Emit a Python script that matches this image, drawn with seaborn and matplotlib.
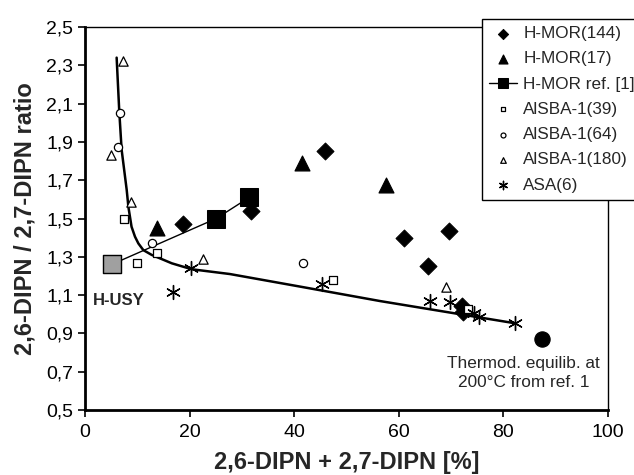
import matplotlib
matplotlib.use("Agg")
import matplotlib.pyplot as plt
import seaborn as sns
import numpy as np

# ---- data ----
hmor144_x = [18.7, 31.7, 45.9, 60.9, 69.6, 65.5, 72.0, 72.2]
hmor144_y = [1.47, 1.54, 1.85, 1.40, 1.435, 1.25, 1.045, 1.01]

hmor17_x = [13.7, 41.5, 57.5]
hmor17_y = [1.45, 1.79, 1.675]

href_x = [5.1, 25.1, 31.4]
href_y = [1.26, 1.50, 1.61]

sba39_x = [7.5, 9.9, 13.7, 47.5, 73.3]
sba39_y = [1.50, 1.27, 1.32, 1.18, 1.03]

sba64_x = [6.6, 6.4, 12.9, 41.6]
sba64_y = [2.05, 1.875, 1.37, 1.266]

sba180_x = [7.3, 5.0, 8.8, 22.5, 69.0]
sba180_y = [2.32, 1.83, 1.585, 1.29, 1.14]

asa_x = [16.9, 20.3, 45.4, 66.0, 69.8, 74.3, 75.4, 82.2]
asa_y = [1.118, 1.243, 1.16, 1.07, 1.065, 1.005, 0.987, 0.953]

equil_x = [87.4]
equil_y = [0.87]

curve_x = [6.05, 6.55, 7.0, 7.97, 8.3, 8.9, 9.56, 10.2, 11.15, 12.75, 16.6, 20.4, 27.7, 41.2, 56.4, 82.2]
curve_y = [2.34, 2.06, 1.86, 1.65, 1.56, 1.457, 1.405, 1.37, 1.335, 1.31, 1.266, 1.235, 1.21, 1.144, 1.069, 0.953]

legend_labels = ["H-MOR(144)", "H-MOR(17)", "H-MOR ref. [1]", "AlSBA-1(39)",
                 "AlSBA-1(64)", "AlSBA-1(180)", "ASA(6)"]
x_ticks = [0, 20, 40, 60, 80, 100]
y_ticks = [0.5, 0.7, 0.9, 1.1, 1.3, 1.5, 1.7, 1.9, 2.1, 2.3, 2.5]

sns.set_style("white")
plt.rcParams['font.family'] = ['Liberation Sans', 'DejaVu Sans']

fig = plt.figure(figsize=(6.34, 4.75), dpi=100)
ax = fig.add_axes([85/634, 1-410/475, (608-85)/634, (410-27)/475])

# trend curve
sns.lineplot(x=curve_x, y=curve_y, ax=ax, sort=False, estimator=None,
             color='black', linewidth=1.8, zorder=2)

# H-MOR ref line
sns.lineplot(x=href_x, y=href_y, ax=ax, sort=False, estimator=None,
             color='black', linewidth=1.0, marker='s', markersize=13,
             markeredgecolor='black', label=legend_labels[2], zorder=3)
# H-USY gray square on top of first point
sns.scatterplot(x=href_x[:1], y=href_y[:1], ax=ax, marker='s', s=150,
                color='#a0a0a0', edgecolor='black', linewidth=1.0, zorder=4)

sns.scatterplot(x=hmor144_x, y=hmor144_y, ax=ax, marker='D', s=75,
                color='black', edgecolor='black', label=legend_labels[0], zorder=5)
sns.scatterplot(x=hmor17_x, y=hmor17_y, ax=ax, marker='^', s=115,
                color='black', edgecolor='black', label=legend_labels[1], zorder=5)
sns.scatterplot(x=sba39_x, y=sba39_y, ax=ax, marker='s', s=35,
                facecolor='white', edgecolor='black', linewidth=0.9,
                label=legend_labels[3], zorder=5)
sns.scatterplot(x=sba64_x, y=sba64_y, ax=ax, marker='o', s=35,
                facecolor='white', edgecolor='black', linewidth=0.9,
                label=legend_labels[4], zorder=5)
sns.scatterplot(x=sba180_x, y=sba180_y, ax=ax, marker='^', s=45,
                facecolor='white', edgecolor='black', linewidth=0.9,
                label=legend_labels[5], zorder=5)
sns.scatterplot(x=asa_x, y=asa_y, ax=ax, marker=(6, 2, 0), s=100,
                color='black', linewidth=1.0, label=legend_labels[6], zorder=5)
sns.scatterplot(x=equil_x, y=equil_y, ax=ax, marker='o', s=120,
                color='black', edgecolor='black', zorder=5)

ax.set_xlim(0, 100)
ax.set_ylim(0.5, 2.5)
ax.set_xticks(x_ticks)
ax.set_yticks(y_ticks)
ax.set_xticklabels([str(v) for v in x_ticks])
ax.set_yticklabels([f"{v:.1f}".replace('.', ',') for v in y_ticks])
ax.tick_params(axis='both', direction='out', length=5, width=1.2,
               labelsize=14, colors='black', left=True, bottom=True)
ax.tick_params(axis='x', pad=5)

for side in ['left', 'bottom']:
    ax.spines[side].set_linewidth(2.0)
for side in ['top', 'right']:
    ax.spines[side].set_linewidth(1.0)
for s in ax.spines.values():
    s.set_color('black')
    s.set_visible(True)

ax.set_xlabel("2,6-DIPN + 2,7-DIPN [%]", fontsize=17, fontweight='bold', labelpad=7)
ax.set_ylabel("2,6-DIPN / 2,7-DIPN ratio", fontsize=17, fontweight='bold', labelpad=7)

ax.text(1.5, 1.07, "H-USY", fontsize=12, fontweight='bold', ha='left', va='center')
ax.text(83.8, 0.693, "Thermod. equilib. at\n200°C from ref. 1", fontsize=12.4,
        ha='center', va='center', linespacing=1.3)

handles, labels = ax.get_legend_handles_labels()
order = [labels.index(l) for l in legend_labels]
leg = fig.legend([handles[i] for i in order], [labels[i] for i in order],
                 loc='upper left', bbox_to_anchor=(473/634, 1-10/475),
                 frameon=True, fancybox=False, edgecolor='black', framealpha=1,
                 fontsize=12.3, handlelength=1.6, handletextpad=0.4,
                 labelspacing=0.6, borderpad=0.45, markerscale=0.6)
leg.get_frame().set_linewidth(1.0)
if ax.get_legend():
    ax.get_legend().remove()

fig.savefig("out.png", dpi=100)
